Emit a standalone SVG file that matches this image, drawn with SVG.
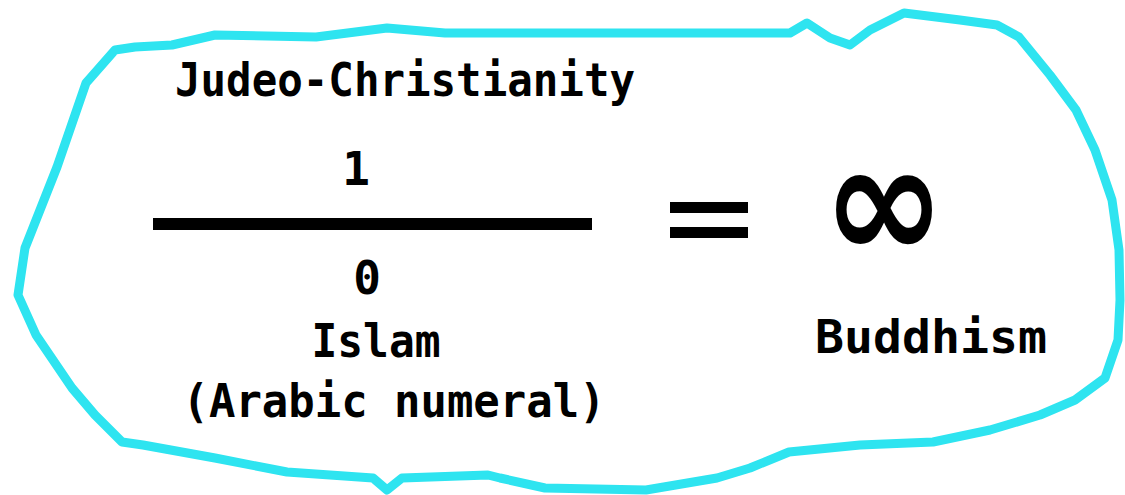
<svg xmlns="http://www.w3.org/2000/svg" width="1125" height="495" viewBox="0 0 1125 495">
<style>
.t{font-family:"DejaVu Sans Mono","Liberation Mono",monospace;font-weight:bold;font-size:46px;fill:#000;text-anchor:middle}
.blob{fill:none;stroke:#2EE4F0;stroke-width:9;stroke-linejoin:round;stroke-linecap:round}
</style>
<rect width="1125" height="495" fill="#fff"/>
<g id="outline">
<path class="blob" d="M115,50 L135,47 L172,45 L215,35 L316,37 L387,28 L445,33 L790,33 L807,23 L830,38 L850,45 L870,30 L904,13 L960,20 L997,25 L1019,37 L1050,75 L1076,110 L1095,150 L1112,200 L1119,250 L1120,300 L1118,340 L1105,378 L1075,400 L1040,415 L990,430 L933,442 L860,445 L789,452 L750,468 L717,478 L646,490 L545,488 L500,478 L488,475 L402,478 L387,490 L373,478 L287,472 L215,458 L143,445 L122,442 L95,415 L72,388 L36,335 L18,295 L25,248 L57,167 L86,83 Z"/>
</g>
<g id="numerator">
<text class="t" x="405" y="96" textLength="460" lengthAdjust="spacingAndGlyphs">Judeo-Christianity</text>
<text class="t" x="356" y="185">1</text>
</g>
<g id="fraction-bar">
<rect x="153" y="218" width="439" height="12" fill="#000"/>
</g>
<g id="denominator">
<text class="t" x="367" y="294">0</text>
<text class="t" x="376" y="357" textLength="129" lengthAdjust="spacingAndGlyphs">Islam</text>
<text class="t" x="394" y="417" textLength="423" lengthAdjust="spacingAndGlyphs">(Arabic numeral)</text>
</g>
<g id="equals">
<rect x="670" y="202" width="78" height="11" fill="#000"/>
<rect x="670" y="227" width="78" height="11" fill="#000"/>
</g>
<g id="infinity">
<text x="884" y="259" style="font-family:'DejaVu Sans',sans-serif;font-weight:bold;font-size:166px;text-anchor:middle" textLength="123" lengthAdjust="spacingAndGlyphs">∞</text>
<text class="t" x="931" y="353" textLength="232" lengthAdjust="spacingAndGlyphs">Buddhism</text>
</g>
</svg>
